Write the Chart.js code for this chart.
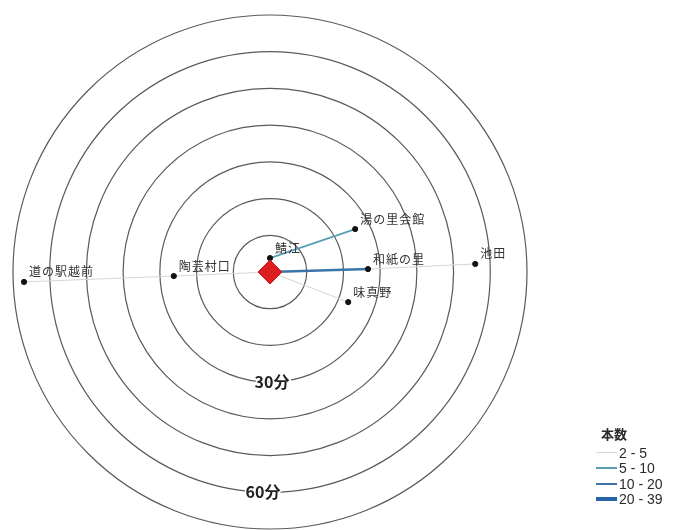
<!DOCTYPE html>
<html>
<head>
<meta charset="utf-8">
<script src="https://cdn.jsdelivr.net/npm/chart.js@4"></script>
<style>
  html, body { margin: 0; padding: 0; background: #fff; }
  #wrap { position: relative; width: 687px; height: 530px; }
  #legend {
    position: absolute; left: 596px; top: 425px;
    font-family: "Liberation Sans", Arial, sans-serif;
    font-size: 14px; color: #2a2a2a;
  }
  #legend .title { font-family: "Noto Sans CJK JP", sans-serif; font-weight: bold; font-size: 13px; line-height: 18px; margin-left: 5px; margin-bottom: 2px; }
  #legend .row { display: flex; align-items: center; height: 15.5px; }
  #legend .swatch { width: 21px; margin-right: 2px; }
</style>
</head>
<body>
<div id="wrap">
  <canvas id="chart"></canvas>
  <div id="legend"></div>
</div>
<script>
// travel time rings, minutes
const ringMinutes = [10, 20, 30, 40, 50, 60, 70];
const ringLabels = { 30: "30分", 60: "60分" };

// stops placed by travel time from the center (minutes east / north)
const stops = ["鯖江", "湯の里会館", "和紙の里", "池田", "味真野", "陶芸村口", "道の駅越前"];
const stopX = [0.0, 23.2, 26.7, 55.9, 21.3, -26.2, -67.0];
const stopY = [3.8, 11.7, 0.8, 2.2, -8.2, -1.1, -2.7];

// bus count bands (本数)
const bands = ["2 - 5", "5 - 10", "10 - 20", "20 - 39"];
const bandColors = ["#d4d4d4", "#5b9db5", "#3a74a8", "#2563a8"];
const bandWidths = [1, 1.8, 2.5, 4];

// routes: from stop (-1 = center), to stop, band index
const routeFrom = [0, -1, 2, -1, -1, 5];
const routeTo = [1, 2, 3, 4, 5, 6];
const routeBand = [1, 2, 0, 0, 0, 0];

const pxPerMin = 257 / 70;
const cx = 270, cy = 272;

const pos = (i) => (i < 0 ? { x: 0, y: 0 } : { x: stopX[i], y: stopY[i] });

const routeSets = routeFrom.map((f, k) => ({
  type: "scatter",
  data: [pos(f), pos(routeTo[k])],
  showLine: true,
  borderColor: bandColors[routeBand[k]],
  borderWidth: bandWidths[routeBand[k]],
  pointRadius: 0,
  order: 3,
}));

const ringsPlugin = {
  id: "rings",
  beforeDatasetsDraw(chart) {
    const { ctx, scales: { x, y } } = chart;
    const ox = x.getPixelForValue(0);
    const oy = y.getPixelForValue(0);
    ctx.save();
    ctx.strokeStyle = "#5a5a5a";
    ctx.lineWidth = 1.2;
    ringMinutes.forEach((m) => {
      const r = x.getPixelForValue(m) - ox;
      ctx.beginPath();
      ctx.arc(ox, oy, r, 0, Math.PI * 2);
      ctx.stroke();
    });
    ctx.restore();
  },
  afterDatasetsDraw(chart) {
    const { ctx, scales: { x, y } } = chart;
    const ox = x.getPixelForValue(0);
    ctx.save();
    // stop names
    ctx.font = '12px "Noto Sans CJK JP"';
    ctx.letterSpacing = "1px";
    ctx.fillStyle = "#333";
    ctx.textBaseline = "middle";
    stops.forEach((name, i) => {
      ctx.fillText(name, x.getPixelForValue(stopX[i]) + 5, y.getPixelForValue(stopY[i]) - 10);
    });
    // ring captions
    ctx.letterSpacing = "0px";
    ctx.font = 'bold 16px "Noto Sans CJK JP"';
    ctx.textAlign = "center";
    ctx.lineWidth = 3;
    ctx.strokeStyle = "#fff";
    Object.keys(ringLabels).forEach((m, k) => {
      const ty = y.getPixelForValue(-Number(m));
      const tx = ox + (k === 0 ? 2 : -7);
      ctx.strokeText(ringLabels[m], tx, ty);
      ctx.fillStyle = "#222";
      ctx.fillText(ringLabels[m], tx, ty);
    });
    ctx.restore();
  },
};

new Chart(document.getElementById("chart"), {
  type: "scatter",
  data: {
    datasets: [
      {
        data: [{ x: 0, y: 0 }],
        pointStyle: "rectRot",
        pointRadius: 12,
        backgroundColor: "#dc1e1e",
        borderColor: "#c81818",
        borderWidth: 1,
        order: 1,
      },
      {
        data: stops.map((s, i) => ({ x: stopX[i], y: stopY[i] })),
        pointRadius: 2.6,
        backgroundColor: "#111",
        borderColor: "#111",
        order: 2,
      },
      ...routeSets,
    ],
  },
  options: {
    responsive: true,
    maintainAspectRatio: false,
    animation: false,
    layout: { padding: 0, autoPadding: false },
    plugins: { legend: { display: false }, tooltip: { enabled: false } },
    scales: {
      x: { type: "linear", display: false, min: -cx / pxPerMin, max: (687 - cx) / pxPerMin },
      y: { type: "linear", display: false, min: -(530 - cy) / pxPerMin, max: cy / pxPerMin },
    },
  },
  plugins: [ringsPlugin],
});

const legend = document.getElementById("legend");
legend.innerHTML = '<div class="title">本数</div>' + bands.map((b, i) =>
  `<div class="row"><div class="swatch" style="height:${bandWidths[i]}px;background:${bandColors[i]}"></div><span>${b}</span></div>`
).join("");
</script>
</body>
</html>
